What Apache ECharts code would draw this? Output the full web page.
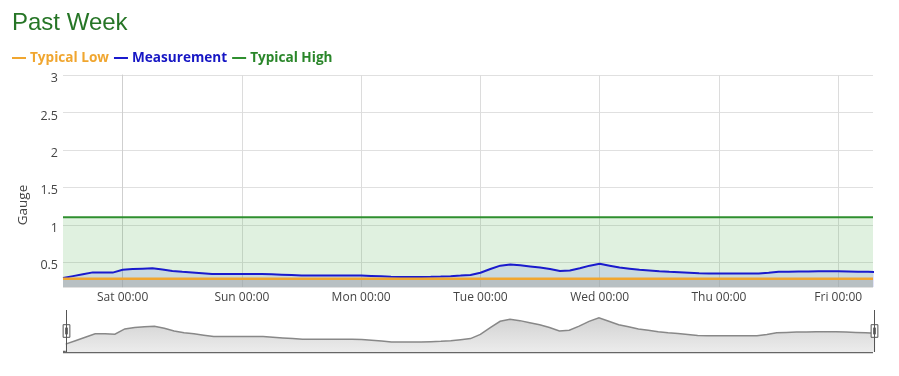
<!DOCTYPE html>
<html>
<head>
<meta charset="utf-8">
<script src="https://cdn.jsdelivr.net/npm/echarts@6/dist/echarts.min.js"></script>
<style>html,body{margin:0;padding:0;background:#fff}#c{width:899px;height:376px}</style>
</head>
<body>
<div id="c"></div>
<script>
// ---- data ----
const weekStart = '2024-06-01 00:00'; // Sat 00:00
const dayNames = ['Sat', 'Sun', 'Mon', 'Tue', 'Wed', 'Thu', 'Fri'];
const tickHours = [0, 24, 48, 72, 96, 120, 144];
const rangeStart = '2024-05-31 12:00';
const rangeEnd = '2024-06-07 07:00';
// measurement: one reading every 2 hours starting Fri 12:00
const measStart = '2024-05-31 12:00';
const measStepHours = 2;
const measValues = [
  0.29, 0.315, 0.34, 0.365, 0.365, 0.362,            // Fri 12:00 .. Fri 22:00
  0.40, 0.41, 0.415, 0.42, 0.405, 0.385,             // Sat 00 .. 10
  0.372, 0.365, 0.355, 0.345, 0.345, 0.345,          // Sat 12 .. 22
  0.345, 0.345, 0.345, 0.34, 0.335, 0.33,            // Sun 00 .. 10
  0.325, 0.325, 0.325, 0.325, 0.325, 0.325,          // Sun 12 .. 22
  0.323, 0.318, 0.312, 0.306, 0.305, 0.305,          // Mon 00 .. 10
  0.305, 0.307, 0.31, 0.315, 0.322, 0.33,            // Mon 12 .. 22
  0.36, 0.41, 0.455, 0.47, 0.46, 0.445,              // Tue 00 .. 10
  0.43, 0.41, 0.385, 0.39, 0.42, 0.455,              // Tue 12 .. 22
  0.48, 0.455, 0.43, 0.415, 0.40, 0.39,              // Wed 00 .. 10
  0.38, 0.372, 0.367, 0.36, 0.352, 0.35,             // Wed 12 .. 22
  0.35, 0.35, 0.35, 0.35, 0.35, 0.36,                // Thu 00 .. 10
  0.372, 0.375, 0.377, 0.378, 0.38, 0.38,            // Thu 12 .. 22
  0.38, 0.378, 0.375, 0.372, 0.368                   // Fri 00 .. 08
];
const lowTimes = [rangeStart, rangeEnd];
const lowValues = [0.28, 0.28];
const highTimes = [rangeStart, rangeEnd];
const highValues = [1.1, 1.1];
const yMin = 0.17, yMax = 3;

// ---- helpers ----
function toHours(s) {
  const p = s => { const [d, t] = s.split(' '); const [Y, M, D] = d.split('-').map(Number); const [h, m] = t.split(':').map(Number); return Date.UTC(Y, M - 1, D, h, m); };
  return (p(s) - p(weekStart)) / 3600000;
}
const pairs = (ts, vs) => ts.map((t, i) => [toHours(t), vs[i]]);
const measData = measValues.map((v, i) => [toHours(measStart) + i * measStepHours, v]);

const chart = echarts.init(document.getElementById('c'));
const font = 'Open Sans';
const shadowArea = () => new echarts.graphic.LinearGradient(0, 0, 0, 1, [{ offset: 0, color: '#ececec' }, { offset: 1, color: '#d2d2d2' }]);
chart.setOption({
  animation: false,
  title: {
    text: 'Past Week', left: 12, top: 11, padding: 0,
    textStyle: { fontFamily: 'Liberation Sans', fontSize: 24, fontWeight: 'normal', color: '#267526' }
  },
  legend: {
    left: 12, top: 51, padding: 0, itemGap: 5, itemWidth: 14, itemHeight: 2, icon: 'rect',
    textStyle: { fontFamily: font, fontSize: 13.6, fontWeight: 'bold', padding: [0, 0, 0, -1] },
    data: [
      { name: 'Typical Low', textStyle: { color: '#f0a630' } },
      { name: 'Measurement', textStyle: { color: '#1616c4' } },
      { name: 'Typical High', textStyle: { color: '#2a862a' } }
    ]
  },
  grid: { left: 63, right: 26, top: 75, bottom: 89 },
  xAxis: {
    type: 'value', min: toHours(rangeStart), max: toHours(rangeEnd),
    axisLine: { show: false },
    axisTick: { show: false, customValues: tickHours },
    axisLabel: {
      customValues: tickHours, margin: 5, color: '#444', fontFamily: font, fontSize: 12,
      formatter: v => dayNames[Math.round(v / 24)] + ' 00:00'
    },
    splitLine: { show: true, lineStyle: { color: '#dcdcdc' } }
  },
  yAxis: {
    type: 'value', min: yMin, max: yMax,
    axisLine: { show: true, lineStyle: { color: '#cfcfcf' } },
    axisTick: { show: false },
    axisLabel: { showMinLabel: false, color: '#444', fontFamily: font, fontSize: 12.5, margin: 5,
      verticalAlign: 'top', lineHeight: 7 },
    splitLine: { lineStyle: { color: '#e0e0e0' } }
  },
  dataZoom: [{
    type: 'slider', xAxisIndex: 0, left: 63, right: 26, top: 310, height: 42,
    start: 0, end: 100, filterMode: 'none', showDetail: false, brushSelect: false,
    backgroundColor: 'rgba(0,0,0,0)', borderColor: 'transparent', fillerColor: 'rgba(0,0,0,0)',
    moveHandleSize: 0, moveHandleStyle: { opacity: 0 },
    handleIcon: 'path://M8,0 L8,100 M0,35 L16,35 L16,65 L0,65 Z M6,42 L6,58 M10,42 L10,58',
    handleSize: '100%',
    handleStyle: { color: '#fff', borderColor: '#555', borderWidth: 1 },
    emphasis: { handleStyle: { color: '#fff', borderColor: '#555', borderWidth: 1 } },
    dataBackground: { lineStyle: { color: '#888', width: 1.5, opacity: 1 }, areaStyle: { opacity: 1, color: shadowArea() } },
    selectedDataBackground: { lineStyle: { color: '#888', width: 1.5, opacity: 1 }, areaStyle: { opacity: 1, color: shadowArea() } }
  }],
  graphic: [
    { type: 'text', x: 23, y: 205, rotation: Math.PI / 2,
      style: { text: 'Gauge', fill: '#444', font: '13.5px "Open Sans"', align: 'center', verticalAlign: 'middle' } },
    { type: 'line', shape: { x1: 63, y1: 352, x2: 873, y2: 352 }, style: { stroke: '#666', lineWidth: 2.5 } }
  ],
  series: [
    {
      name: 'Measurement', type: 'line', z: 3, data: measData, clip: true,
      showSymbol: false, smooth: false,
      lineStyle: { color: '#1a1acd', width: 2 }, itemStyle: { color: '#1a1acd' },
      areaStyle: { color: 'rgba(60,70,210,0.2)', origin: 'start' }
    },
    {
      name: 'Typical High', type: 'line', z: 2, data: pairs(highTimes, highValues),
      showSymbol: false,
      lineStyle: { color: '#2f8f2f', width: 2 }, itemStyle: { color: '#2f8f2f' },
      areaStyle: { color: 'rgba(80,175,80,0.25)', origin: 'start' }
    },
    {
      name: 'Typical Low', type: 'line', z: 4, data: pairs(lowTimes, lowValues),
      showSymbol: false,
      lineStyle: { color: '#f0a630', width: 2.5 }, itemStyle: { color: '#f0a630' },
      areaStyle: { color: 'rgba(170,170,170,0.75)', origin: 'start' }
    }
  ]
});
</script>
</body>
</html>
